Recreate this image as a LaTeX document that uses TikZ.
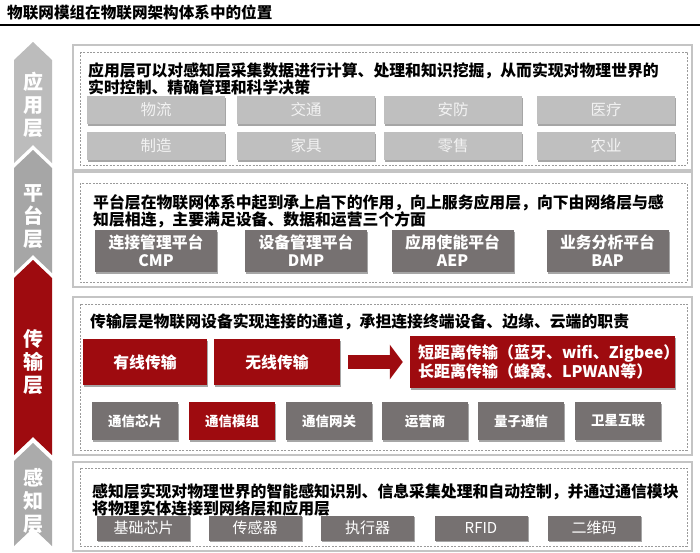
\documentclass[tikz,border=0pt]{standalone}
\usepackage{fontspec}
\setmainfont{Noto Sans CJK SC}
\usetikzlibrary{shadows,arrows.meta}
\definecolor{seggA}{HTML}{BCBCBC}
\definecolor{seggB}{HTML}{A6A6A6}
\definecolor{seggD}{HTML}{ABABAB}
\definecolor{iotred}{HTML}{9E0B0F}
\definecolor{lightbtn}{HTML}{BFBFBF}
\definecolor{darkbtn}{HTML}{767171}
\definecolor{framegray}{HTML}{C4C4C4}
\definecolor{dashgray}{HTML}{9A9A9A}
\begin{document}
\begin{tikzpicture}[x=1pt,y=-1pt,
  outerframe/.style={draw=framegray, line width=1.2pt},
  innerframe/.style={draw=dashgray, line width=0.8pt, dash pattern=on 2pt off 1.4pt},
  bodytext/.style={anchor=west, inner sep=0pt, align=left, text=black, font=\bfseries\fontsize{15.85}{17}\selectfont},
  seglabel/.style={text=white, align=center, inner sep=0pt, font=\bfseries\fontsize{20}{23}\selectfont},
  btnshadow/.style={drop shadow={shadow xshift=1.2pt, shadow yshift=-1.6pt, fill=black, opacity=0.35}},
  appbtn/.style={fill=lightbtn, text=white!95!black, btnshadow, minimum width=138pt, minimum height=28pt, inner sep=0pt, font=\fontsize{15.5}{17}\selectfont},
  platbtn/.style={fill=darkbtn, text=white, btnshadow, minimum width=122pt, minimum height=42pt, inner sep=0pt, align=center, font=\bfseries\fontsize{15.8}{18}\selectfont},
  redbig/.style={fill=iotred, text=white, btnshadow, minimum height=46pt, inner sep=0pt, font=\bfseries\fontsize{15.8}{17}\selectfont},
  smallbtn/.style={fill=darkbtn, text=white, btnshadow, minimum width=86pt, minimum height=38pt, inner sep=0pt, font=\bfseries\fontsize{13.5}{15}\selectfont},
  smallred/.style={smallbtn, fill=iotred},
  sensebtn/.style={fill=darkbtn, text=white, btnshadow, minimum width=93pt, minimum height=25pt, inner sep=0pt, font=\fontsize{15}{16}\selectfont},
  bigarrow/.style={iotred, line width=14pt, -{Triangle[width=34pt,length=13pt]}}
]
\useasboundingbox (0,0) rectangle (700,552);
\fill[white] (0,0) rectangle (700,552);

% title
\node[anchor=west, inner sep=0pt, font=\bfseries\fontsize{15.6}{17}\selectfont] (title) at (7,13) {物联网模组在物联网架构体系中的位置};
\draw[line width=1.5pt] (0,25) -- (700,25);

% left chevron column
\fill[seggA] (14,60) -- (33,42) -- (52,60) -- (52,163) -- (33,145) -- (14,163) -- cycle;
\fill[seggB] (14,168) -- (33,150) -- (52,168) -- (52,273) -- (33,255) -- (14,273) -- cycle;
\fill[iotred] (14,278) -- (33,260) -- (52,278) -- (52,455) -- (33,437) -- (14,455) -- cycle;
\fill[seggD] (14,461) -- (33,443) -- (52,461) -- (52,546) -- (33,528) -- (14,546) -- cycle;
\node[seglabel] (lA) at (33,105) {应\\用\\层};
\node[seglabel] (lB) at (33,217) {平\\台\\层};
\node[seglabel] (lC) at (33,362) {传\\输\\层};
\node[seglabel] (lD) at (33,501) {感\\知\\层};

% frames
\draw[outerframe] (73,45) rectangle (692,170);
\draw[innerframe] (80,52) rectangle (687,165);
\draw[outerframe] (73,172) rectangle (692,287);
\draw[innerframe] (80,183) rectangle (687,282);
\draw[outerframe] (73,297) rectangle (692,455);
\draw[innerframe] (80,304) rectangle (687,450);
\draw[outerframe] (73,462) rectangle (692,551);
\draw[innerframe] (80,468) rectangle (687,546);

% application layer
\node[bodytext] (tA) at (88,78.5) {应用层可以对感知层采集数据进行计算、处理和知识挖掘，从而实现对物理世界的\\实时控制、精确管理和科学决策};
\node[appbtn] (a1) at (156,110) {物流};
\node[appbtn] (a2) at (306,110) {交通};
\node[appbtn] (a3) at (453,110) {安防};
\node[appbtn] (a4) at (606,110) {医疗};
\node[appbtn] (a5) at (156,146) {制造};
\node[appbtn] (a6) at (306,146) {家具};
\node[appbtn] (a7) at (453,146) {零售};
\node[appbtn] (a8) at (606,146) {农业};

% platform layer
\node[bodytext] (tB) at (93,211.5) {平台层在物联网体系中起到承上启下的作用，向上服务应用层，向下由网络层与感\\知层相连，主要满足设备、数据和运营三个方面};
\node[platbtn] (p1) at (156,251) {连接管理平台\\CMP};
\node[platbtn] (p2) at (306,251) {设备管理平台\\DMP};
\node[platbtn] (p3) at (452.5,251) {应用使能平台\\AEP};
\node[platbtn] (p4) at (607.5,251) {业务分析平台\\BAP};

% transmission layer
\node[bodytext] (tC) at (90,322) {传输层是物联网设备实现连接的通道，承担连接终端设备、边缘、云端的职责};
\node[redbig, minimum width=124pt] (wired) at (145,362) {有线传输};
\node[redbig, minimum width=126pt] (wireless) at (277,362) {无线传输};
\node[redbig, minimum width=265pt, minimum height=52pt, align=left, text width=249pt, font=\bfseries\fontsize{16}{17.5}\selectfont] (range) at (542.5,362) {短距离传输（蓝牙、wifi、Zigbee）\\长距离传输（蜂窝、LPWAN等）};
\draw[bigarrow] ([xshift=8pt]wireless.east) -- ([xshift=-7pt]range.west);
\node[smallbtn] (s1) at (135,421) {通信芯片};
\node[smallred] (s2) at (232,421) {通信模组};
\node[smallbtn] (s3) at (329,421) {通信网关};
\node[smallbtn] (s4) at (425,421) {运营商};
\node[smallbtn] (s5) at (521,421) {量子通信};
\node[smallbtn] (s6) at (618,421) {卫星互联};

% perception layer
\node[bodytext] (tD) at (92,500) {感知层实现对物理世界的智能感知识别、信息采集处理和自动控制，并通过通信模块\\将物理实体连接到网络层和应用层};
\node[sensebtn] (e1) at (143.5,528) {基础芯片};
\node[sensebtn] (e2) at (255,528) {传感器};
\node[sensebtn] (e3) at (367.5,528) {执行器};
\node[sensebtn] (e4) at (481,528) {RFID};
\node[sensebtn] (e5) at (594,528) {二维码};
\end{tikzpicture}
\end{document}
